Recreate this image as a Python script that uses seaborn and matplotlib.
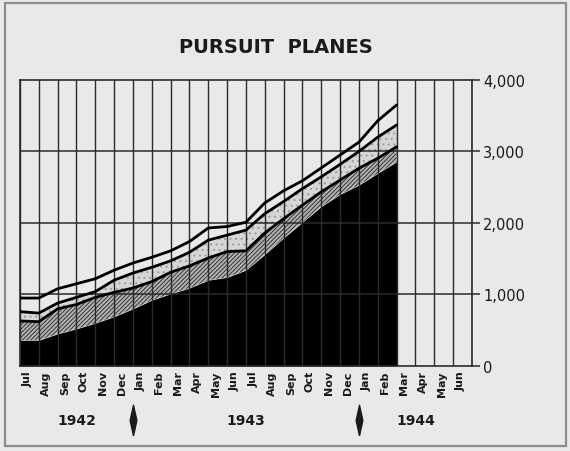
import numpy as np
import pandas as pd
import matplotlib
matplotlib.use("Agg")
import matplotlib.pyplot as plt
import seaborn as sns
from matplotlib.patches import Rectangle

# month columns Jul 1942 - Jun 1944
months = ["Jul", "Aug", "Sep", "Oct", "Nov", "Dec", "Jan", "Feb", "Mar", "Apr", "May", "Jun",
          "Jul", "Aug", "Sep", "Oct", "Nov", "Dec", "Jan", "Feb", "Mar", "Apr", "May", "Jun"]
years = ["1942", "1943", "1944"]
year_centers = [3, 12, 21]
year_breaks = [6, 18]

# cumulative levels read at month boundaries (Jul 1942 .. end of Feb 1944)
level_black = [360, 360, 450, 520, 600, 690, 800, 920, 1010, 1090, 1200, 1240,
               1340, 1560, 1790, 2010, 2230, 2400, 2530, 2695, 2855]
level_hatch = [630, 620, 800, 860, 960, 1030, 1090, 1180, 1310, 1400, 1510, 1600,
               1610, 1860, 2060, 2250, 2435, 2600, 2765, 2905, 3065]
level_stipple = [760, 740, 880, 960, 1040, 1200, 1300, 1380, 1470, 1590, 1760, 1830,
                 1900, 2130, 2300, 2480, 2645, 2820, 3000, 3200, 3370]
level_total = [950, 950, 1080, 1150, 1220, 1340, 1440, 1520, 1610, 1740, 1930, 1950,
               2010, 2280, 2450, 2590, 2770, 2950, 3130, 3430, 3650]

df = pd.DataFrame({
    "pos": np.arange(len(level_total)),
    "black": level_black,
    "hatch": level_hatch,
    "stipple": level_stipple,
    "total": level_total,
})

sns.set_style("white")
plt.rcParams["hatch.linewidth"] = 0.7
paper = "#e9e9e7"
ink = "#1a1a1a"

fig = plt.figure(figsize=(5.7, 4.52), dpi=100, facecolor=paper)
ax = fig.add_axes([0.035, 0.188, 0.793, 0.633])
ax.set_facecolor(paper)

# stacked bands
ax.fill_between(df["pos"], 0, df["black"], color="black", lw=0, zorder=2)
ax.fill_between(df["pos"], df["black"], df["hatch"], facecolor="#b4b4b4",
                edgecolor="#333333", hatch="////////", lw=0, zorder=2)
ax.fill_between(df["pos"], df["hatch"], df["stipple"], facecolor="#d6d6d4",
                edgecolor="#9a9a9a", hatch="...", lw=0, zorder=2)

for col in ["hatch", "stipple", "total"]:
    sns.lineplot(data=df, x="pos", y=col, color="black", lw=2.0, ax=ax, zorder=4)

# grid
for xv in range(len(months) + 1):
    ax.axvline(xv, color="#2a2a2a", lw=1.0, zorder=3)
for yv in [1000, 2000, 3000]:
    ax.axhline(yv, color="#2a2a2a", lw=1.1, zorder=3)

ax.set_xlim(0, len(months))
ax.set_ylim(0, 4000)
for s in ax.spines.values():
    s.set_color("#2a2a2a")
    s.set_linewidth(1.2)

ax.yaxis.tick_right()
ax.set_yticks([0, 1000, 2000, 3000, 4000])
ax.set_yticklabels([f"{v:,}" for v in [0, 1000, 2000, 3000, 4000]], fontsize=10.5,
                   color=ink)
ax.tick_params(axis="y", right=True, length=6, width=1.1, color="#2a2a2a", pad=2)

ax.set_xticks(np.arange(len(months)) + 0.4)
ax.set_xticklabels(months, rotation=90, fontsize=8, fontweight="bold", color=ink)
ax.tick_params(axis="x", length=0, pad=3)
ax.set_xlabel("")
ax.set_ylabel("")

trans = ax.get_xaxis_transform()
for yr, xc in zip(years, year_centers):
    ax.text(xc, -0.19, yr, transform=trans, ha="center", va="center",
            fontsize=10, fontweight="bold", color=ink)
thin_diamond = [(0, -1), (0.22, 0), (0, 1), (-0.22, 0), (0, -1)]
ax.plot(year_breaks, [-0.19] * len(year_breaks), transform=trans, ls="none",
        marker=thin_diamond, ms=22, color=ink, clip_on=False)

fig.text(0.484, 0.895, "PURSUIT  PLANES", ha="center", va="center",
         fontsize=14, fontweight="bold", color=ink)

fig.patches.append(Rectangle((0.009, 0.01), 0.984, 0.982, transform=fig.transFigure,
                             fill=False, edgecolor="#8c8c8c", lw=1.6))

fig.savefig("out.png", dpi=100, facecolor=paper)
